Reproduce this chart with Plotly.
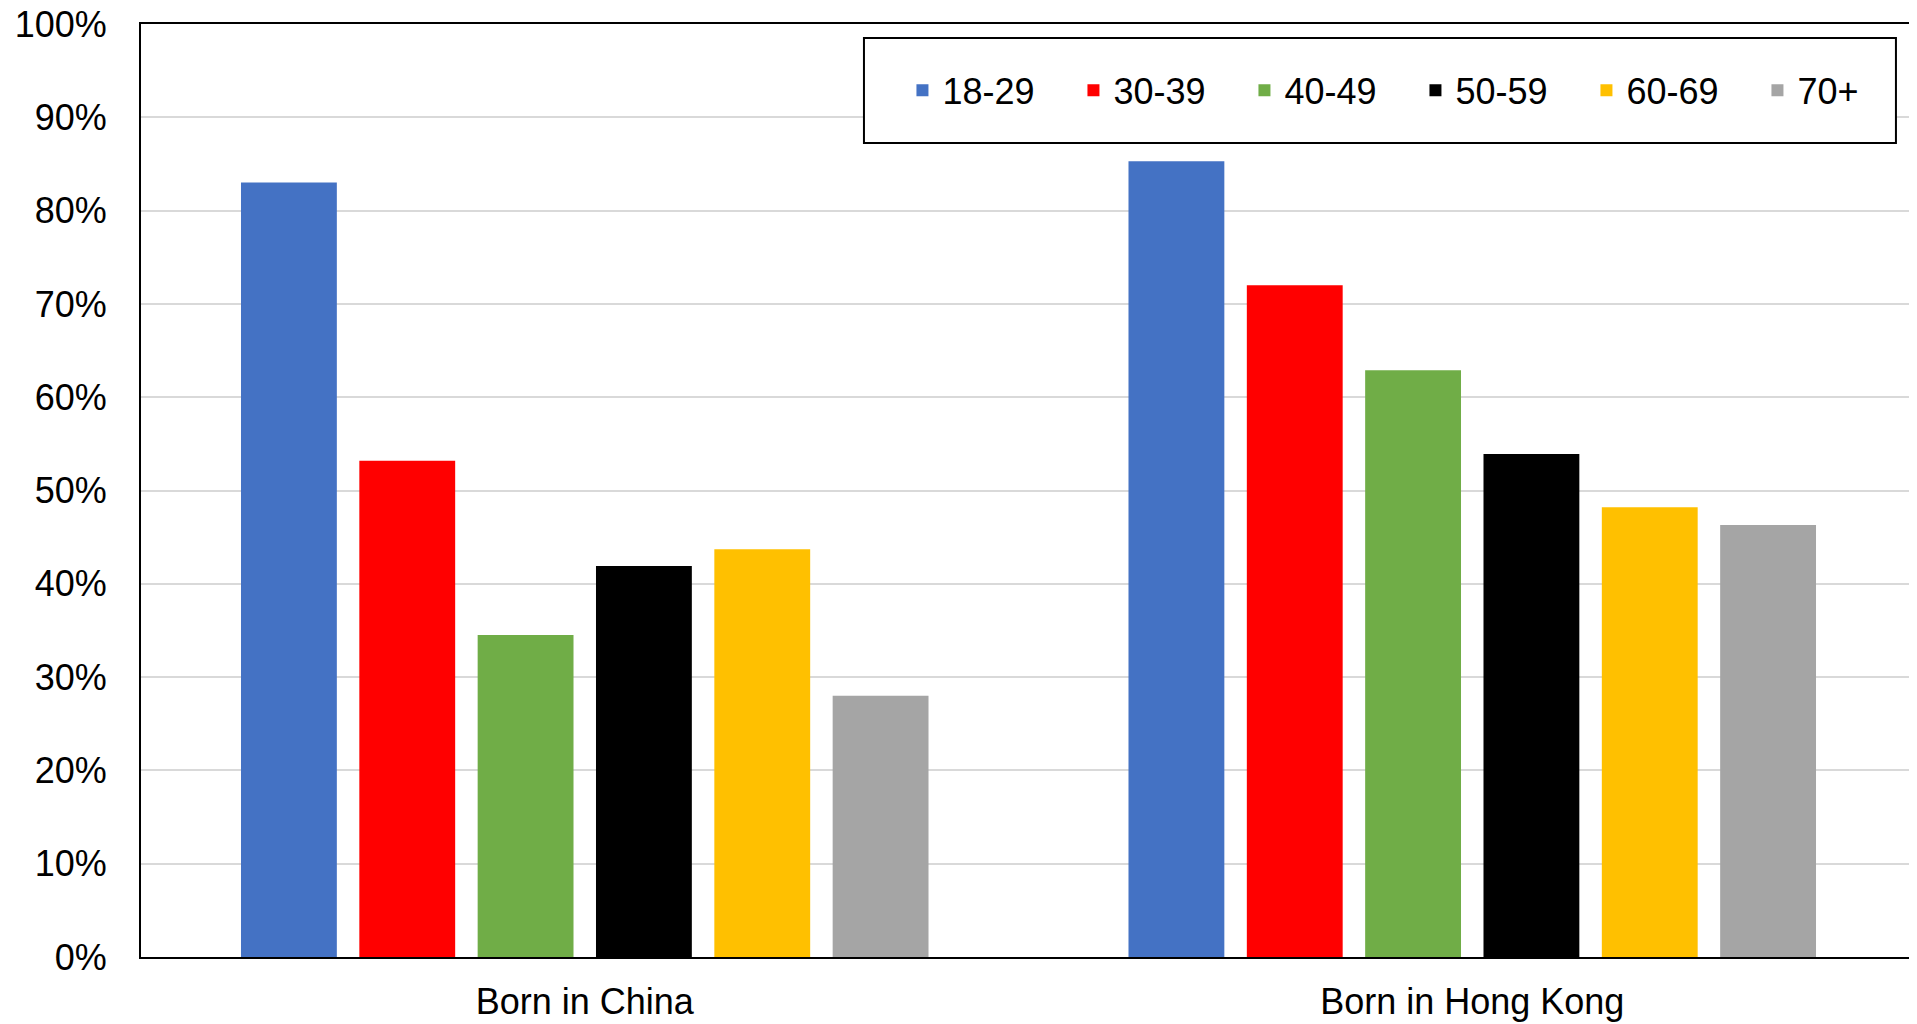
import plotly.graph_objects as go

categories = ["Born in China", "Born in Hong Kong"]
age_groups = ["18-29", "30-39", "40-49", "50-59", "60-69", "70+"]
colors = ["#4472C4", "#FF0000", "#70AD47", "#000000", "#FFC000", "#A5A5A5"]
# values per age group: [Born in China, Born in Hong Kong]
v_18_29 = [0.830, 0.853]
v_30_39 = [0.532, 0.720]
v_40_49 = [0.345, 0.629]
v_50_59 = [0.419, 0.539]
v_60_69 = [0.437, 0.482]
v_70p = [0.280, 0.463]
series = [v_18_29, v_30_39, v_40_49, v_50_59, v_60_69, v_70p]

FONT = "Liberation Sans, Arial, sans-serif"

fig = go.Figure()
for name, vals, col in zip(age_groups, series, colors):
    fig.add_trace(go.Bar(x=categories, y=vals, name=name,
                         marker=dict(color=col, line=dict(width=0))))

fig.update_layout(
    width=1909, height=1016,
    margin=dict(l=133, r=1, t=16, b=67, autoexpand=False),
    paper_bgcolor="white", plot_bgcolor="white",
    barmode="group", bargap=0.2, bargroupgap=0.19,
    font=dict(family=FONT, size=36, color="black"),
    showlegend=True,
    legend=dict(orientation="h", x=0.718, xanchor="center", y=0.929, yanchor="middle",
                bgcolor="rgba(0,0,0,0)", borderwidth=0,
                entrywidth=126, entrywidthmode="pixels",
                font=dict(family=FONT, size=36, color="black")),
    shapes=[dict(type="rect", xref="paper", yref="paper",
                 x0=0.4073, x1=0.9887, y0=0.8725, y1=0.985,
                 line=dict(color="black", width=2), fillcolor="white", layer="above")],
)
fig.update_yaxes(range=[0, 1], dtick=0.1, tick0=0, tickformat=".0%",
                 showgrid=True, gridcolor="#D9D9D9", gridwidth=1.5,
                 showline=True, linecolor="black", linewidth=2, mirror=True,
                 ticks="", ticklabelstandoff=25, zeroline=False, automargin=False,
                 ticklabeloverflow="allow",
                 tickfont=dict(family=FONT, size=36, color="black"))
fig.update_xaxes(showline=True, linecolor="black", linewidth=2, mirror=True,
                 ticks="", ticklabelstandoff=12, showgrid=False, automargin=False,
                 ticklabeloverflow="allow",
                 tickfont=dict(family=FONT, size=36, color="black"))

fig.write_html("out.html")
